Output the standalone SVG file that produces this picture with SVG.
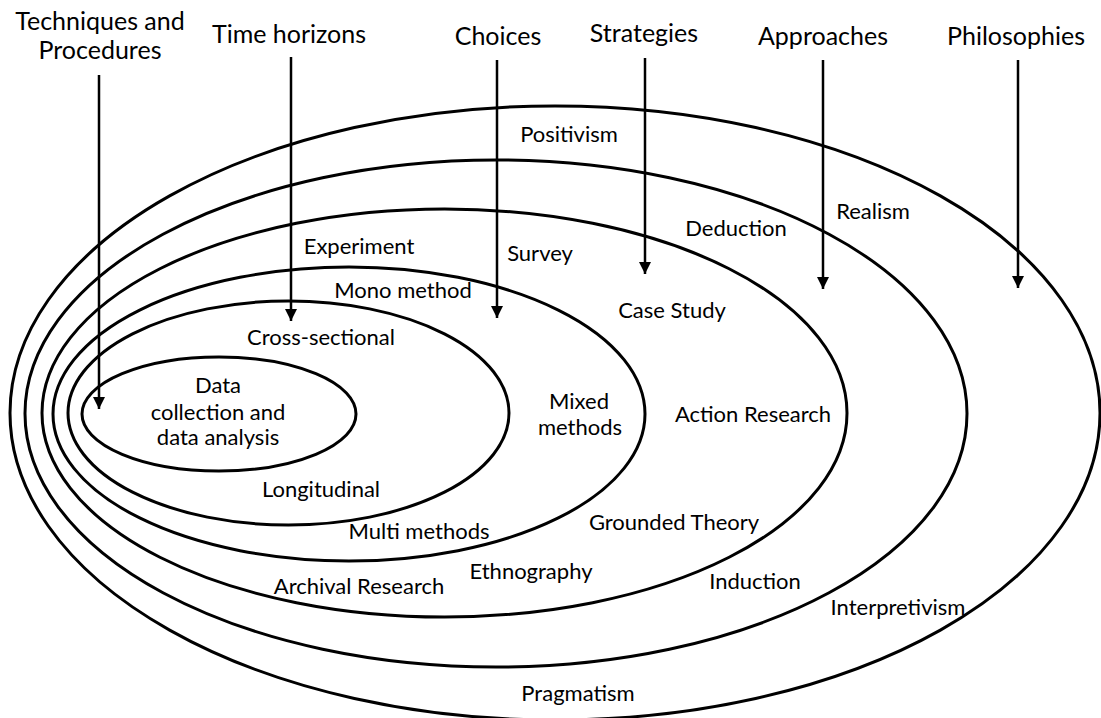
<svg xmlns="http://www.w3.org/2000/svg" width="1101" height="718" viewBox="0 0 1101 718">
  <style>
    .ring { fill: none; stroke: #000; stroke-width: 3; }
    .arrow { fill: none; stroke: #000; stroke-width: 2.5; marker-end: url(#head); }
    .head { font-family: Lato, "Liberation Sans", sans-serif; font-size: 25px; fill: #000; text-anchor: middle; }
    .lbl { font-family: Lato, "Liberation Sans", sans-serif; font-size: 22px; fill: #000; text-anchor: middle; }
  </style>
  <defs>
    <marker id="head" markerUnits="userSpaceOnUse" markerWidth="12" markerHeight="12" refX="12" refY="6" orient="auto" viewBox="0 0 12 12">
      <path d="M0,0 L12,6 L0,12 z" fill="#000"/>
    </marker>
  </defs>
  <rect width="1101" height="718" fill="#fff"/>

  <!-- Layers, outermost to innermost -->
  <g id="philosophies">
    <ellipse class="ring" cx="555" cy="413" rx="545" ry="307"/>
    <text class="lbl" x="569" y="142">Positivism</text>
    <text class="lbl" x="873" y="219">Realism</text>
    <text class="lbl" x="898" y="615">Interpretivism</text>
    <text class="lbl" x="578" y="701">Pragmatism</text>
  </g>
  <g id="approaches">
    <ellipse class="ring" cx="496" cy="413.5" rx="471" ry="253.5"/>
    <text class="lbl" x="736" y="236">Deduction</text>
    <text class="lbl" x="755" y="589">Induction</text>
  </g>
  <g id="strategies">
    <ellipse class="ring" cx="444.5" cy="413" rx="402.5" ry="204"/>
    <text class="lbl" x="359" y="254">Experiment</text>
    <text class="lbl" x="540" y="261">Survey</text>
    <text class="lbl" x="672" y="318">Case Study</text>
    <text class="lbl" x="753" y="422">Action Research</text>
    <text class="lbl" x="674" y="530">Grounded Theory</text>
    <text class="lbl" x="531" y="579">Ethnography</text>
    <text class="lbl" x="359" y="594">Archival Research</text>
  </g>
  <g id="choices">
    <ellipse class="ring" cx="349" cy="414" rx="296" ry="147"/>
    <text class="lbl" x="403" y="298">Mono method</text>
    <text class="lbl" x="579" y="409">Mixed</text>
    <text class="lbl" x="580" y="435">methods</text>
    <text class="lbl" x="419" y="539">Multi methods</text>
  </g>
  <g id="time-horizons">
    <ellipse class="ring" cx="288.5" cy="413" rx="220.5" ry="112"/>
    <text class="lbl" x="321" y="345">Cross-sectional</text>
    <text class="lbl" x="321" y="497">Longitudinal</text>
  </g>
  <g id="core">
    <ellipse class="ring" cx="219" cy="414" rx="137" ry="57"/>
    <text class="lbl" x="218" y="393">Data</text>
    <text class="lbl" x="218" y="420">collection and</text>
    <text class="lbl" x="218" y="445">data analysis</text>
  </g>

  <!-- Layer headings -->
  <g id="headings">
    <text class="head" x="100" y="30">Techniques and</text>
    <text class="head" x="100" y="59">Procedures</text>
    <text class="head" x="289" y="43">Time horizons</text>
    <text class="head" x="498" y="45">Choices</text>
    <text class="head" x="644" y="42">Strategies</text>
    <text class="head" x="823" y="45">Approaches</text>
    <text class="head" x="1016" y="45">Philosophies</text>
  </g>

  <!-- Pointers from headings into their layers -->
  <g id="connectors">
    <line class="arrow" x1="99" y1="75" x2="99" y2="409"/>
    <line class="arrow" x1="291" y1="57" x2="291" y2="321"/>
    <line class="arrow" x1="497" y1="60" x2="497" y2="318"/>
    <line class="arrow" x1="645" y1="58" x2="645" y2="274"/>
    <line class="arrow" x1="823" y1="60" x2="823" y2="289"/>
    <line class="arrow" x1="1018" y1="60" x2="1018" y2="288"/>
  </g>
</svg>
